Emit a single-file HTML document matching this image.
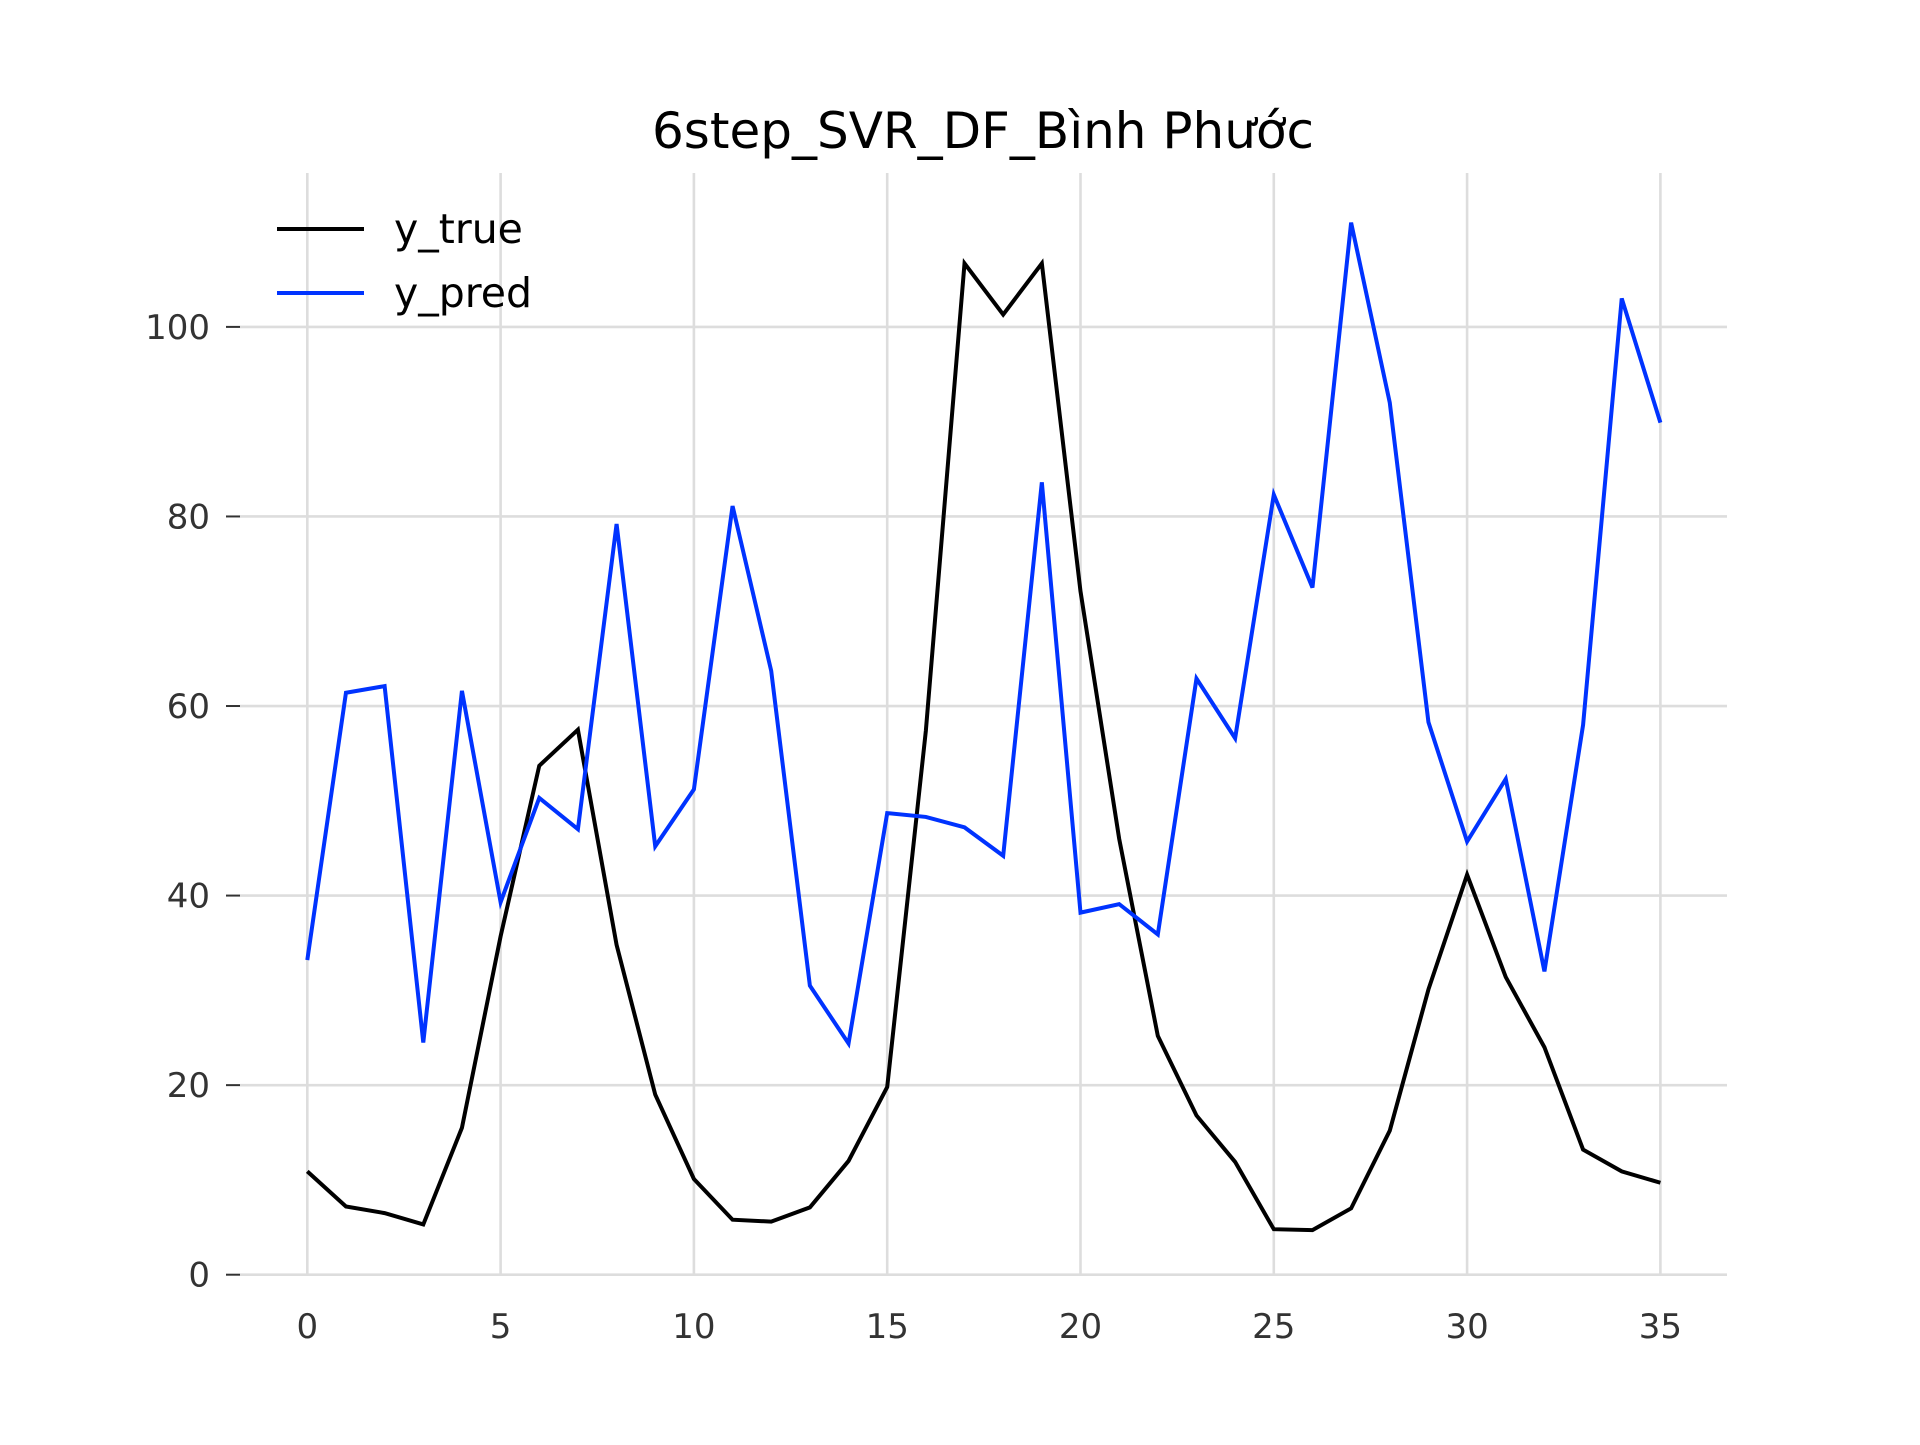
<!DOCTYPE html>
<html><head><meta charset="utf-8"><style>
html,body{margin:0;padding:0;background:#fff}
svg text{font-family:"DejaVu Sans","Liberation Sans",sans-serif}
</style></head><body>
<svg id="chart" width="1920" height="1440" viewBox="0 0 1920 1440" xmlns="http://www.w3.org/2000/svg">
<rect width="1920" height="1440" fill="#fff"/>
<text x="983" y="148" font-size="50" text-anchor="middle" fill="#000">6step_SVR_DF_Bình Phước</text>
<g id="grid"></g><g id="axes"></g><g id="series"></g>
<g>
<line x1="277" y1="229" x2="364" y2="229" stroke="#000" stroke-width="4"/>
<text x="394" y="243" font-size="41" fill="#000">y_true</text>
<line x1="277" y1="293" x2="364" y2="293" stroke="#0033ff" stroke-width="4"/>
<text x="394" y="307" font-size="41" fill="#000">y_pred</text>
</g>
</svg>
<script>
const xTicks=[0,5,10,15,20,25,30,35];
const yTicks=[0,20,40,60,80,100];
const yTrue=[10.9,7.2,6.5,5.3,15.5,35.7,53.7,57.5,34.8,19.0,10.1,5.8,5.6,7.1,12.0,19.8,57.4,106.7,101.3,106.7,72.1,46,25.2,16.8,11.9,4.8,4.7,7.0,15.2,30.1,42.2,31.4,24.0,13.2,10.9,9.7];
const yPred=[33.2,61.4,62.1,24.5,61.6,39.3,50.3,47.0,79.2,45.2,51.2,81.1,63.7,30.5,24.4,48.7,48.3,47.2,44.2,83.6,38.2,39.1,35.9,62.9,56.6,82.3,72.5,111,92,58.3,45.7,52.3,32,58,103,89.9];
const NS='http://www.w3.org/2000/svg';
const L=240,R=1727,T=173,B=1275;
const xs=v=>307.3+(1660.4-307.3)*v/35;
const ys=v=>1274.7-(1274.7-326.9)*v/100;
function mk(tag,attrs,parent){const e=document.createElementNS(NS,tag);for(const k in attrs)e.setAttribute(k,attrs[k]);document.getElementById(parent).appendChild(e);return e;}
xTicks.forEach(t=>{
 const g=mk('line',{x1:xs(t),x2:xs(t),y1:T,y2:B,stroke:'#dddddd','stroke-width':2.6},'grid');
 
 
 const tx=mk('text',{x:xs(t),y:1338,'font-size':34,'text-anchor':'middle',fill:'#333'},'axes');
 tx.textContent=t;
 
 
});
yTicks.forEach(t=>{
 const g=mk('line',{x1:L,x2:R,y1:ys(t),y2:ys(t),stroke:'#dddddd','stroke-width':2.6},'grid');
 
 
 const tk=mk('line',{x1:226,x2:240,y1:ys(t),y2:ys(t),stroke:'#333','stroke-width':2},'axes');
 
 
 const tx=mk('text',{x:210,y:ys(t)+12,'font-size':34,'text-anchor':'end',fill:'#333'},'axes');
 tx.textContent=t;
 
 
});
function line(data,color,name){
 const p=mk('polyline',{points:data.map((v,i)=>xs(i)+','+ys(v)).join(' '),fill:'none',stroke:color,'stroke-width':4,'stroke-linejoin':'miter'},'series');
 
 
}
line(yTrue,'#000','series-y-true');
line(yPred,'#0033ff','series-y-pred');
</script>
</body></html>
